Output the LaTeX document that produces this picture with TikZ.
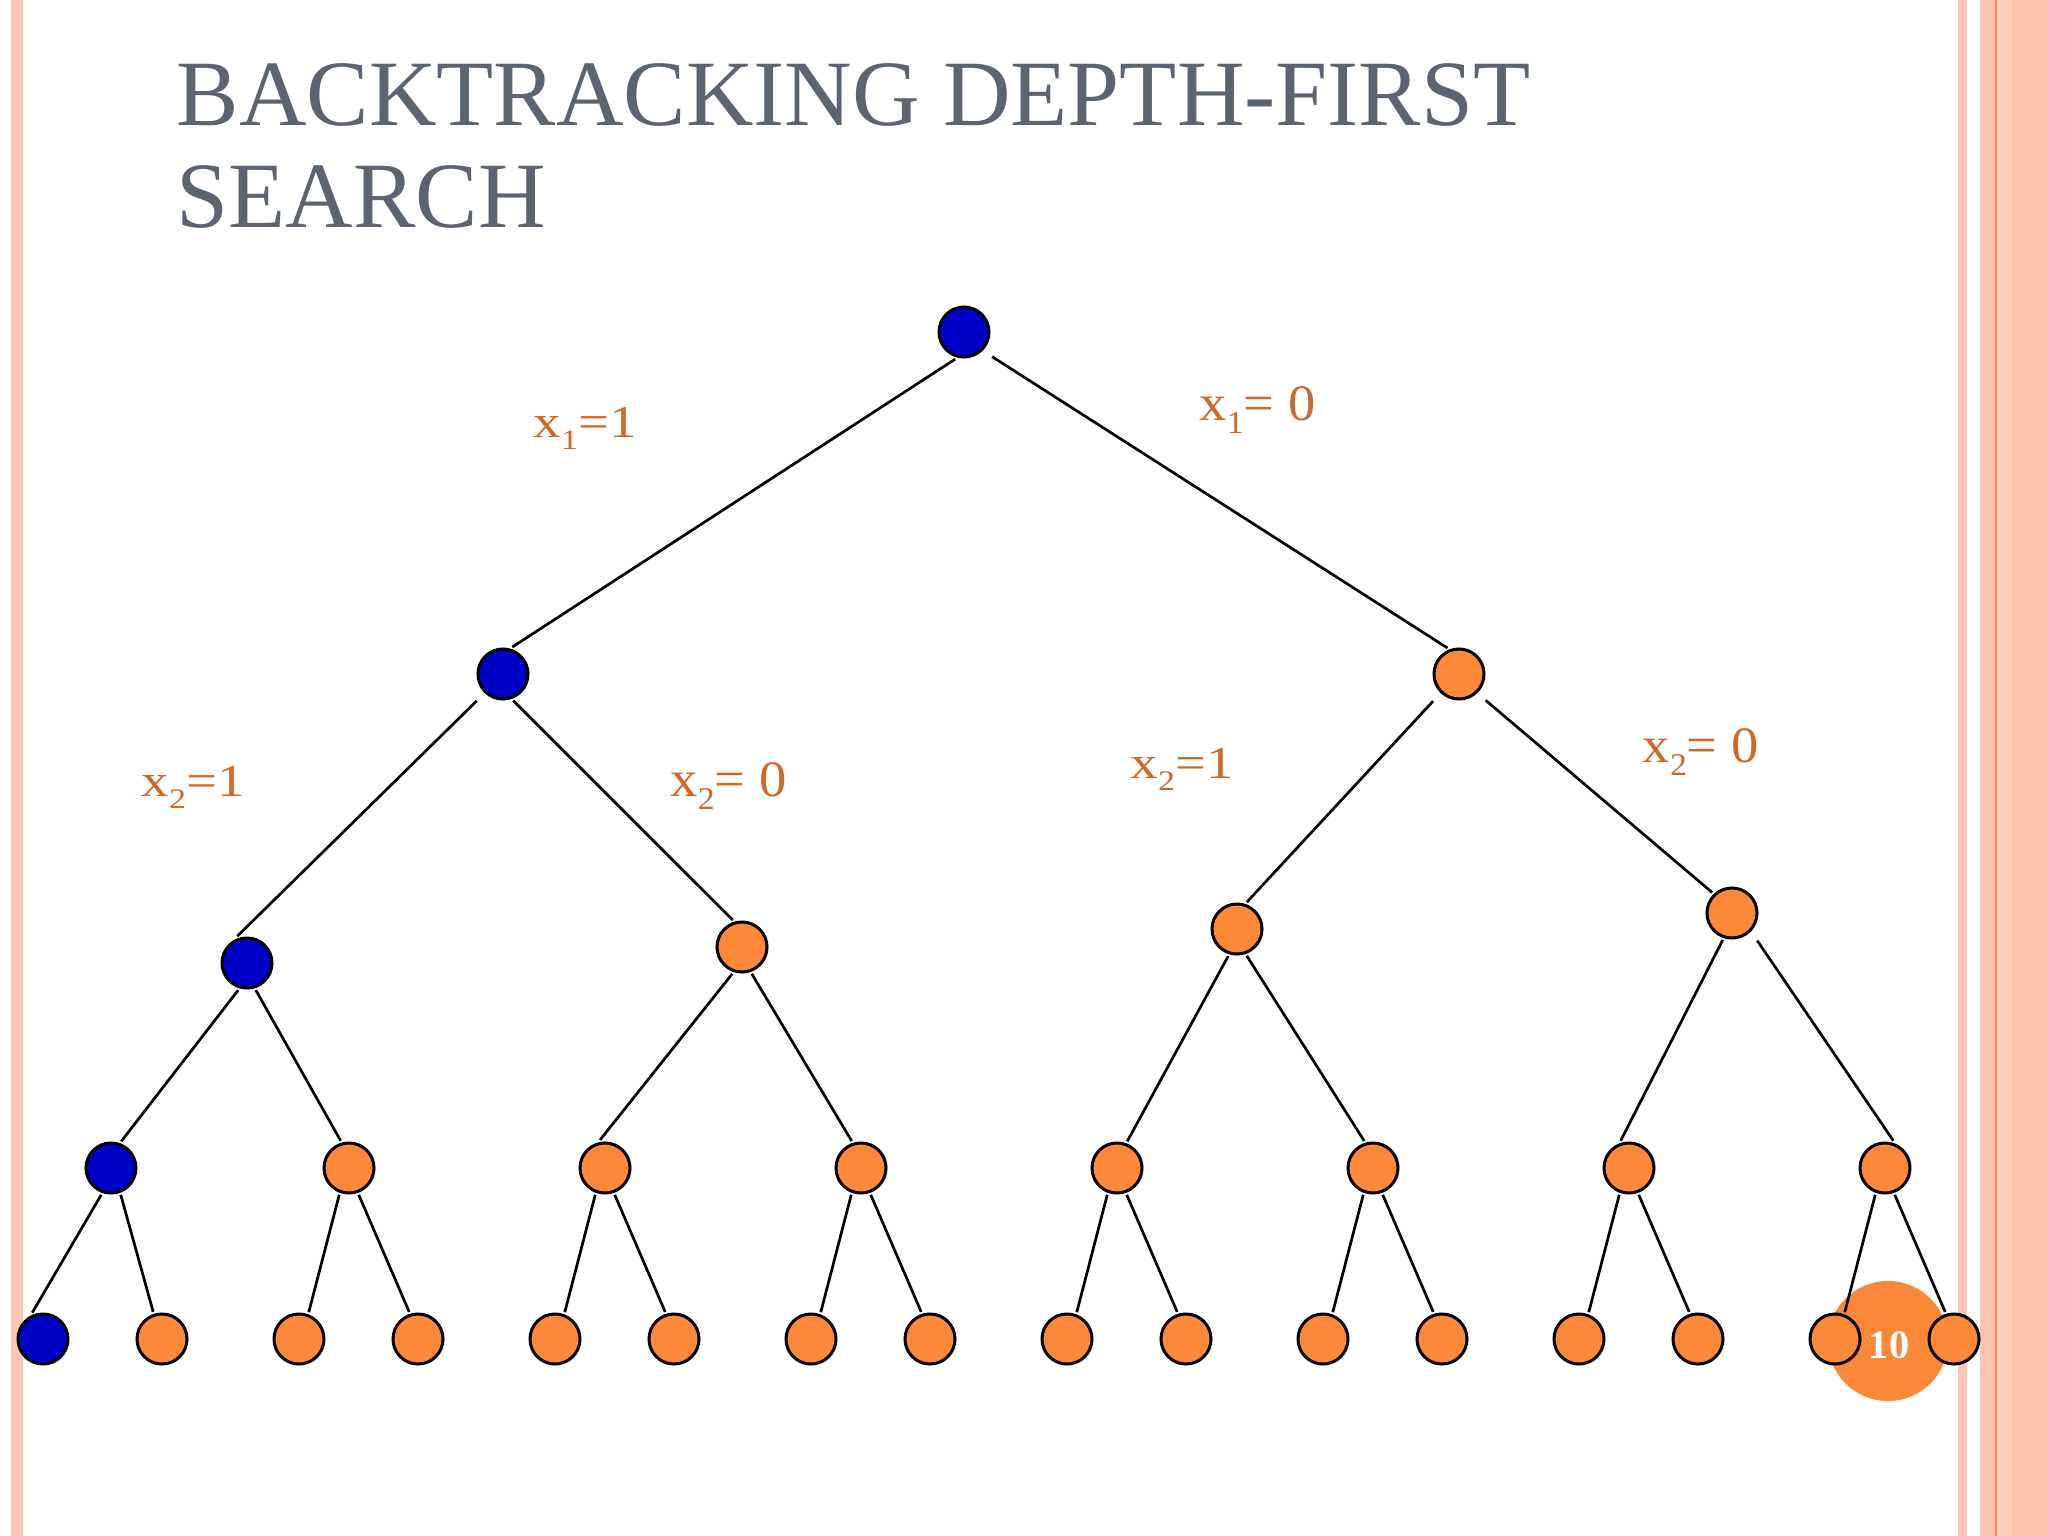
\documentclass[tikz,border=0pt]{standalone}
\usepackage{fontspec}
\setmainfont{Liberation Serif}
\usepackage{graphicx}
\definecolor{nodeblue}{RGB}{0,0,200}
\definecolor{nodeorange}{RGB}{252,137,56}
\definecolor{labelorange}{RGB}{208,104,38}
\definecolor{titlegray}{RGB}{92,99,113}
\definecolor{stripeA}{RGB}{252,199,179}
\definecolor{stripeB}{RGB}{252,196,172}
\definecolor{stripeC}{RGB}{253,205,187}
\definecolor{stripeline}{RGB}{242,140,85}
\definecolor{pageorange}{RGB}{250,136,56}
\newcommand{\xsub}[1]{\raisebox{-0.27em}{\scalebox{0.62}{#1}}}
\newcommand{\labone}[1]{\scalebox{1.2}[1]{x\xsub{#1}=1}}
\newcommand{\labzero}[1]{\scalebox{1.07}[1]{x\xsub{#1}= 0}}
\begin{document}
\begin{tikzpicture}[x=0.01cm,y=-0.01cm,
  tnode/.style={circle,draw=black,line width=0.03cm,minimum size=0.5cm,inner sep=0pt,outer sep=0.035cm},
  bnode/.style={tnode,fill=nodeblue},
  onode/.style={tnode,fill=nodeorange},
  link/.style={line width=0.027cm,black},
  farlink/.style={link,shorten <=0.09cm},
  lab/.style={text=labelorange,inner sep=0pt,anchor=base west},
  smalllab/.style={lab,font=\fontsize{13pt}{15pt}\selectfont},
  biglab/.style={lab,font=\fontsize{14.5pt}{17pt}\selectfont},
  titletext/.style={text=titlegray,inner sep=0pt,anchor=base west,font=\fontsize{26.6pt}{32pt}\selectfont},
  pagecirc/.style={circle,fill=pageorange,minimum size=1.2cm,inner sep=0pt}
]
\useasboundingbox (0,0) rectangle (2048,1536);
\fill[white] (0,0) rectangle (2048,1536);
% borders
\fill[stripeA] (11,0) rectangle (23,1536);
\fill[stripeA] (1958,0) rectangle (1967,1536);
\fill[stripeB] (1980,0) rectangle (2048,1536);
\fill[stripeC] (1997,0) rectangle (2012,1536);
\draw[stripeline,line width=0.02cm] (1996,0) -- (1996,1536);
% title
\node[titletext] (t1) at (176,125) {BACKTRACKING DEPTH-FIRST};
\node[titletext] (t2) at (176,227) {SEARCH};
% page number
\node[pagecirc] (pg) at (1888,1341) {};
\node[text=white,inner sep=0pt,font=\fontsize{11.5pt}{13pt}\selectfont\bfseries] (pgnum) at (1889,1345) {10};
% tree nodes
\node[bnode] (r) at (964,332) {};
\node[bnode] (a) at (503,674) {};
\node[onode] (b) at (1459,674) {};
\node[bnode] (c) at (247,963) {};
\node[onode] (d) at (742,947) {};
\node[onode] (e) at (1237,929) {};
\node[onode] (f) at (1732,913) {};
\node[bnode] (g1) at (111,1168) {};
\foreach \i/\x in {2/349,3/605,4/861,5/1117,6/1373,7/1629,8/1885}
  \node[onode] (g\i) at (\x,1168) {};
\node[bnode] (h1) at (43,1339) {};
\foreach \i/\x in {2/162,3/299,4/418,5/555,6/674,7/811,8/930,9/1067,10/1186,11/1323,12/1442,13/1579,14/1698,15/1835,16/1954}
  \node[onode] (h\i) at (\x,1339) {};
% edges
\draw[link] (r.-108) -- (a.71);
\draw[farlink] (r.-44) -- (b.114);
\draw[farlink] (a.-134) -- (c.110);
\draw[link] (a.-69) -- (d.109);
\draw[farlink] (b.-134) -- (e.70);
\draw[farlink] (b.-46) -- (f.134);
\draw[link] (c.-108) -- (g1.69);
\draw[link] (c.-72) -- (g2.107);
\draw[link] (d.-110) -- (g3.100);
\draw[link] (d.-70) -- (g4.109);
\draw[link] (e.-108) -- (g5.69);
\draw[link] (e.-70) -- (g6.108);
\draw[link] (f.-109) -- (g7.107);
\draw[farlink] (f.-45) -- (g8.73);
\draw[link] (g1.-110) -- (h1.112);
\draw[link] (g1.-70) -- (h2.108);
\foreach \p/\l/\rr in {2/3/4,3/5/6,4/7/8,5/9/10,6/11/12,7/13/14,8/15/16}{
  \draw[link] (g\p.-110) -- (h\l.70);
  \draw[link] (g\p.-70) -- (h\rr.108);
}
% labels
\node[smalllab] (l1) at (533,437) {\labone{1}};
\node[biglab] (l2) at (1199,420) {\labzero{1}};
\node[smalllab] (l3) at (141,796) {\labone{2}};
\node[biglab] (l4) at (670,796) {\labzero{2}};
\node[smalllab] (l5) at (1130,778) {\labone{2}};
\node[biglab] (l6) at (1642,762) {\labzero{2}};
\end{tikzpicture}
\end{document}
